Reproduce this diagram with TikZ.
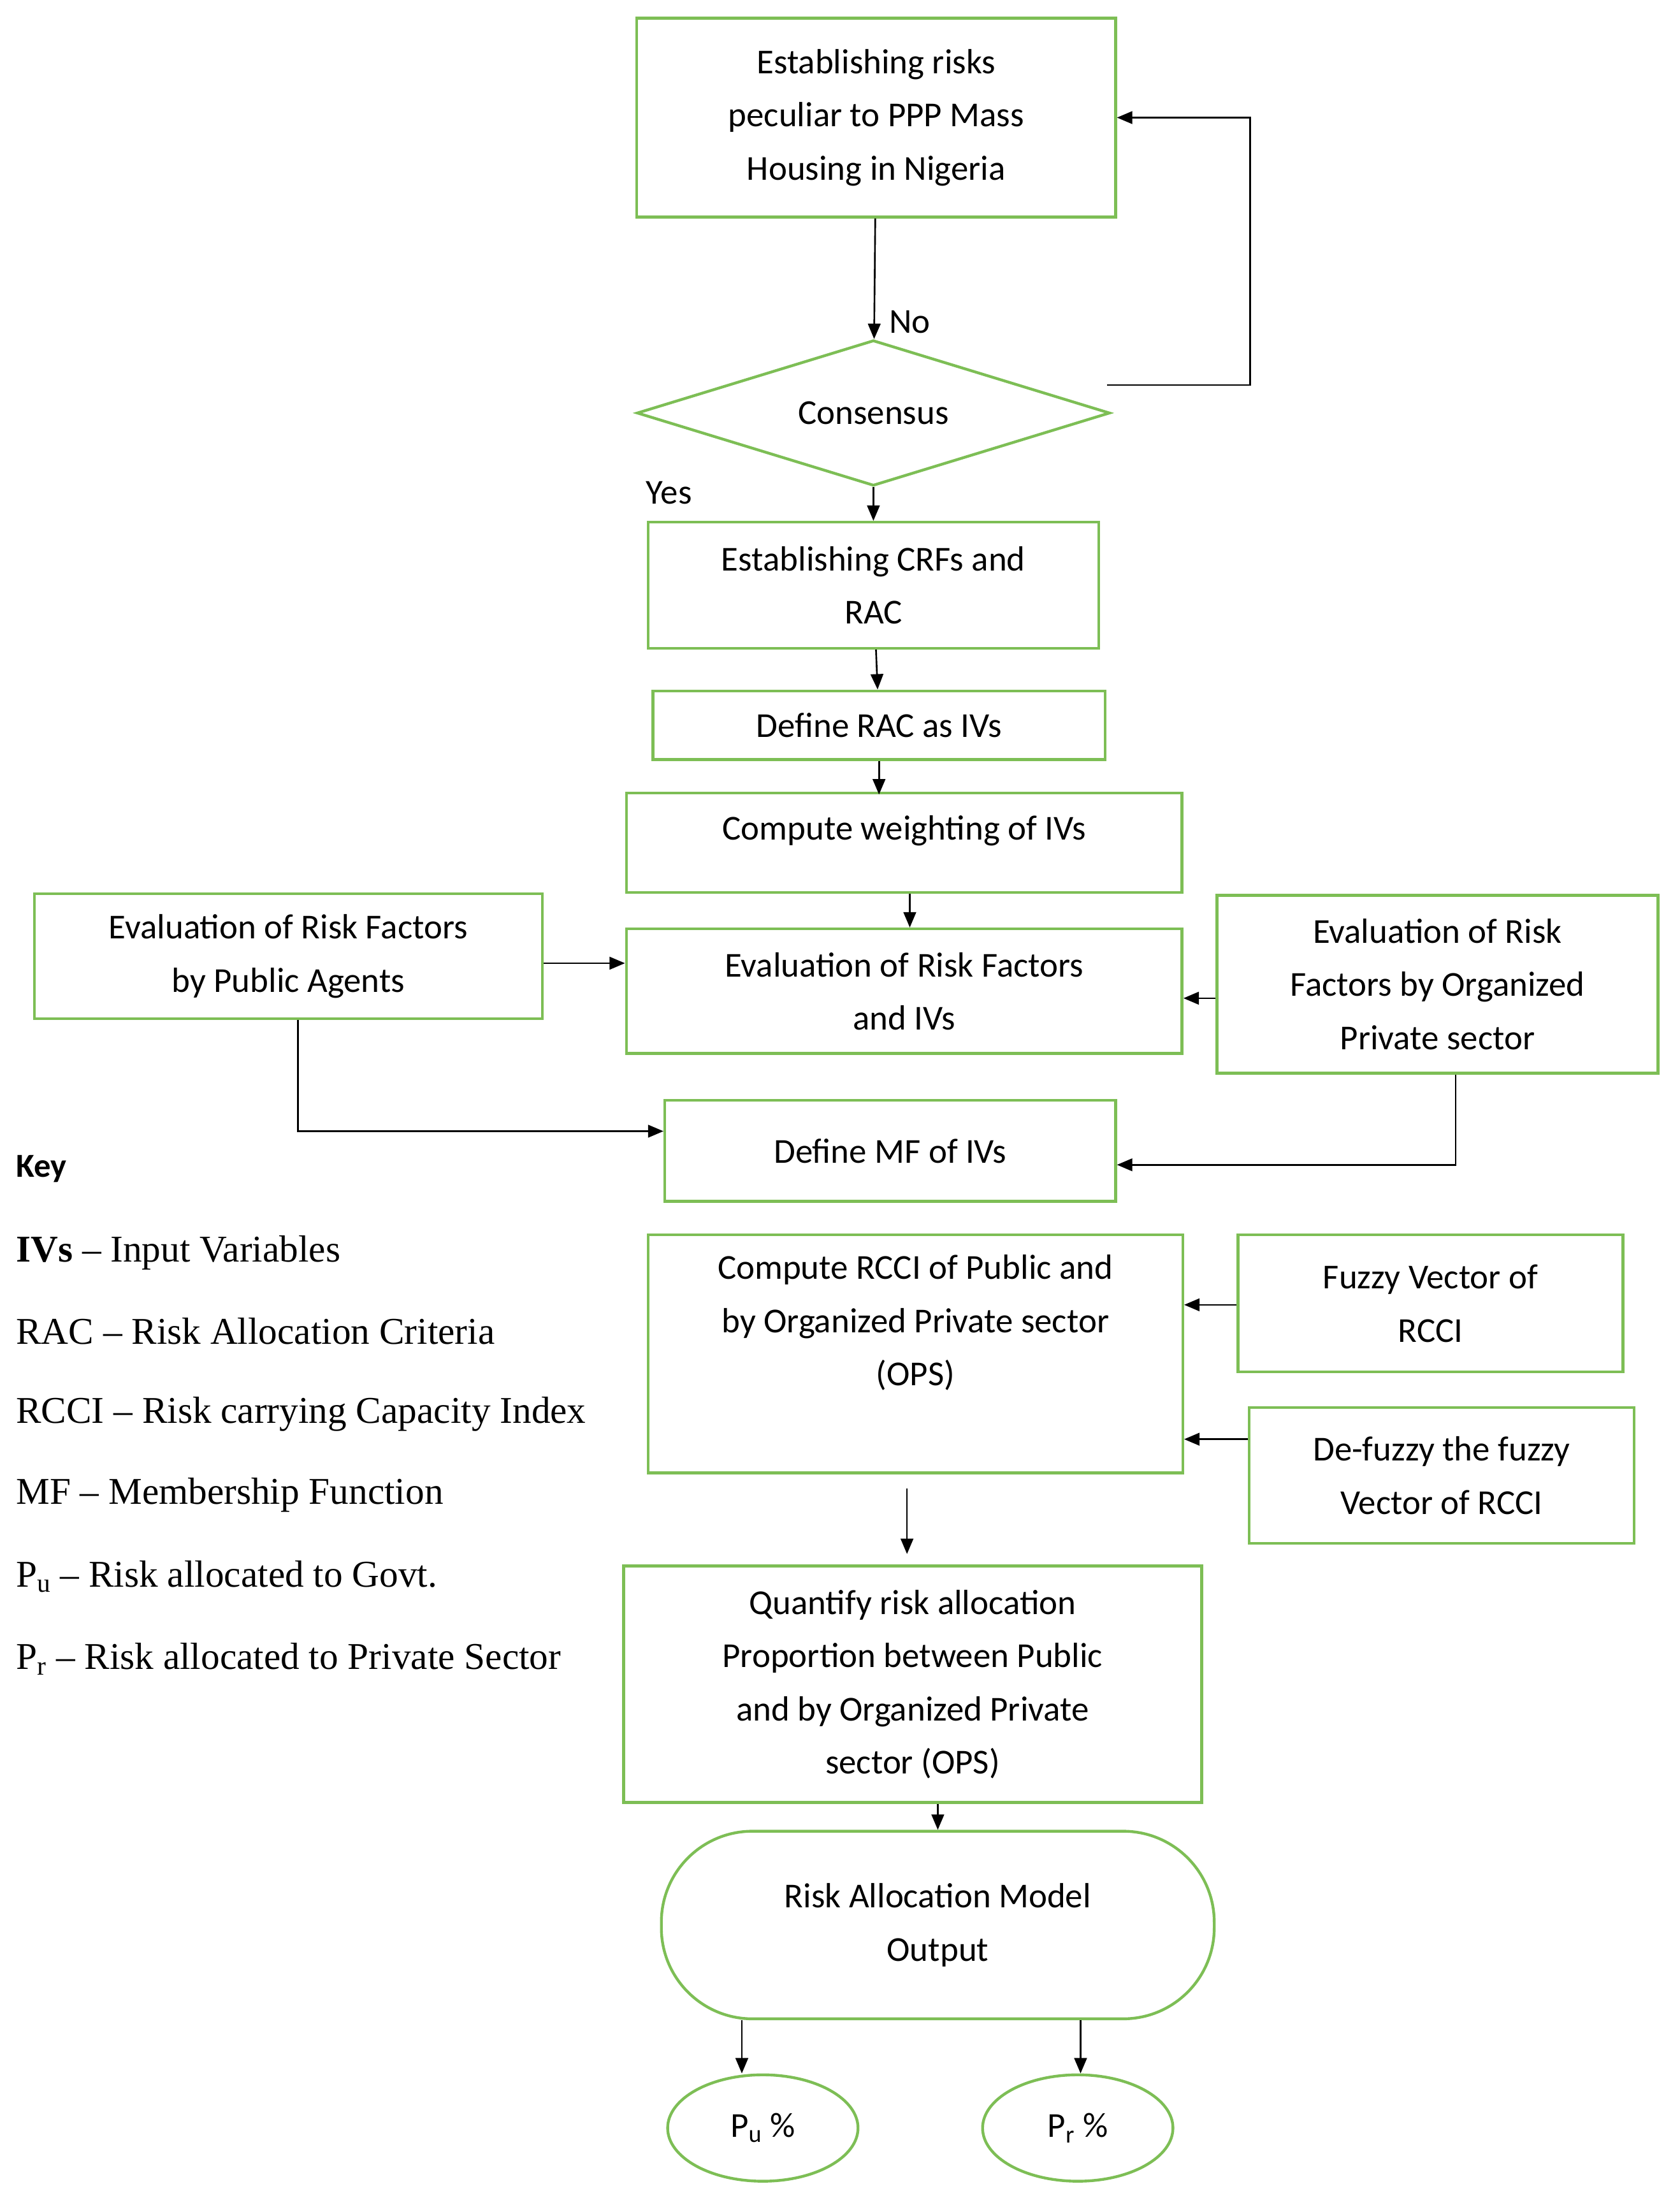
\documentclass[tikz,border=0pt]{standalone}
\usepackage{fontspec}
\setmainfont{Liberation Serif}
\newfontfamily\boxfont{Carlito}
\usetikzlibrary{shapes.geometric,arrows.meta}
\definecolor{rgreen}{HTML}{7DBE55}
\tikzset{
  box/.style={draw=rgreen,line width=2pt,align=center,inner sep=0pt,
    font=\boxfont\fontsize{25}{38}\selectfont},
  arr/.style={-{Triangle[length=11pt,width=9pt]},line width=1.2pt},
  keyline/.style={anchor=west,font=\fontsize{27}{30}\selectfont}
}
\begin{document}
\begin{tikzpicture}[x=1pt,y=-1pt]
\useasboundingbox (0,0) rectangle (1200,1565);
% main column
\node[box,minimum width=342,minimum height=142] (risks) at (626,84) {Establishing risks\\peculiar to PPP Mass\\Housing in Nigeria};
\node[box,diamond,aspect=3.25,minimum width=338,minimum height=104] (cons) at (624,295) {Consensus};
\node[box,minimum width=322,minimum height=90] (crf) at (624,418) {Establishing CRFs and\\RAC};
\node[box,minimum width=323,minimum height=49] (rac) at (628,518) {Define RAC as IVs};
\node[box,minimum width=397,minimum height=71,text depth=22pt] (weight) at (646,602) {Compute weighting of IVs};
\node[box,minimum width=397,minimum height=89] (eval) at (646,708) {Evaluation of Risk Factors\\and IVs};
\node[box,minimum width=363,minimum height=89] (pub) at (206,683) {Evaluation of Risk Factors\\by Public Agents};
\node[box,minimum width=315,minimum height=127] (ops) at (1027,703) {Evaluation of Risk\\Factors by Organized\\Private sector};
\node[box,minimum width=322,minimum height=72] (mf) at (636,822) {Define MF of IVs};
\node[box,minimum width=382,minimum height=170,text depth=48pt] (rcci) at (654,967) {Compute RCCI of Public and\\by Organized Private sector\\(OPS)};
\node[box,minimum width=275,minimum height=98] (fuzzy) at (1022,931) {Fuzzy Vector of\\RCCI};
\node[box,minimum width=275,minimum height=97] (defuz) at (1030,1054) {De-fuzzy the fuzzy\\Vector of RCCI};
\node[box,minimum width=413,minimum height=169] (quant) at (652,1203) {Quantify risk allocation\\Proportion between Public\\and by Organized Private\\sector (OPS)};
\node[box,rounded corners=65pt,minimum width=395,minimum height=134] (out) at (670,1375) {Risk Allocation Model\\Output};
\node[box,ellipse,minimum width=136,minimum height=76] (pu) at (545,1520) {P\textsubscript{u} \%};
\node[box,ellipse,minimum width=136,minimum height=76] (pr) at (770,1520) {P\textsubscript{r} \%};
% labels
\node[box,draw=none] (no) at (650,230) {No};
\node[box,draw=none] (yes) at (478,352) {Yes};
% connectors
\draw[arr] (risks) -- (cons);
\draw[arr] (cons.east) ++(-3,-20) coordinate (c1) -- (893,275) |- (risks.east);
\draw[arr] (cons) -- (crf);
\draw[arr] (crf) -- (rac);
\draw[arr] (rac.south -| weight.north) ++(-18,0) -- ++(0,24);
\draw[arr] (weight.south) ++(4,0) coordinate (w1) -- (w1 |- eval.north);
\draw[arr] (pub.east |- 0,688) -- (eval.west |- 0,688);
\draw[arr] (ops.west |- 0,713) -- (eval.east |- 0,713);
\draw[arr] (pub.south -| 213,0) |- (mf.west |- 0,808);
\draw[arr] (ops.south -| 1040,0) |- (mf.east |- 0,832);
\draw[arr] (fuzzy.west |- 0,932) -- (rcci.east |- 0,932);
\draw[arr] (defuz.west |- 0,1028) -- (rcci.east |- 0,1028);
\coordinate (r1) at (648,1063);
\coordinate (r2) at (648,1110);
\draw[arr] (r1) -- (r2);
\draw[arr] (quant.south -| out.north) -- (out.north);
\draw[arr] (out.south -| 530,0) -- (pu.north -| 530,0);
\draw[arr] (out.south -| 772,0) -- (pr.north -| 772,0);
% key
\node[keyline,font=\boxfont\bfseries\fontsize{24}{30}\selectfont] (key) at (8,835) {Key};
\node[keyline] (k1) at (8,895) {\textbf{IVs} -- Input Variables};
\node[keyline] (k2) at (8,951) {RAC -- Risk Allocation Criteria};
\node[keyline] (k3) at (8,1010) {RCCI -- Risk carrying Capacity Index};
\node[keyline] (k4) at (8,1068) {MF -- Membership Function};
\node[keyline] (k5) at (8,1126) {P\textsubscript{u} -- Risk allocated to Govt.};
\node[keyline] (k6) at (8,1185) {P\textsubscript{r} -- Risk allocated to Private Sector};
\end{tikzpicture}
\end{document}
